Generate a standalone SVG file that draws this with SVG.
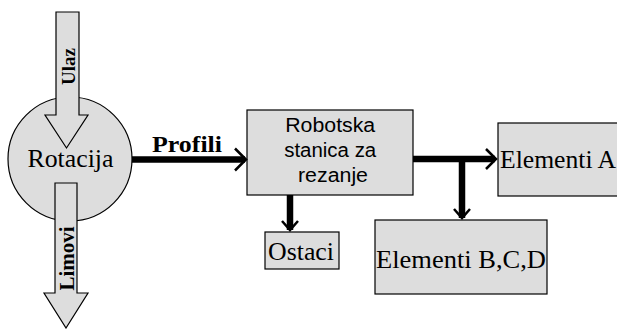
<svg xmlns="http://www.w3.org/2000/svg" width="617" height="329" viewBox="0 0 617 329">
  <style>
    .box { fill: #dddddd; stroke: #000; stroke-width: 1.2; }
    .serif { font-family: "Liberation Serif", "Times New Roman", serif; fill: #000; }
    .sans { font-family: "Liberation Sans", Arial, sans-serif; fill: #000; }
    .bold { font-weight: bold; }
    .flow { fill: none; stroke: #000; stroke-width: 6.5; }
    .head { fill: none; stroke: #000; stroke-width: 2.5; }
  </style>
  <rect width="617" height="329" fill="#fff"/>

  <!-- Rotation node with input and output block arrows -->
  <g id="rotacija">
    <circle class="box" cx="70" cy="159" r="62"/>
    <text class="serif" x="70.5" y="167" font-size="25" text-anchor="middle" textLength="86" lengthAdjust="spacingAndGlyphs">Rotacija</text>
  </g>
  <g id="ulaz">
    <polygon class="box" points="56,12 79,12 79,115 88,115 66.5,148 45,115 56,115"/>
    <text class="serif bold" transform="translate(75,66.5) rotate(-90)" font-size="19" text-anchor="middle" textLength="37" lengthAdjust="spacingAndGlyphs">Ulaz</text>
  </g>
  <g id="limovi">
    <polygon class="box" points="55,183 77,183 77,293 88,293 66,328 44,293 55,293"/>
    <text class="serif bold" transform="translate(74,258.5) rotate(-90)" font-size="20" text-anchor="middle" textLength="64" lengthAdjust="spacingAndGlyphs">Limovi</text>
  </g>

  <!-- Process nodes -->
  <g id="robotska-stanica">
    <rect class="box" x="247" y="110" width="166" height="85"/>
    <text class="sans" font-size="20" text-anchor="middle">
      <tspan x="333" y="132" textLength="90" lengthAdjust="spacingAndGlyphs">Robotska</tspan>
      <tspan x="333" y="157" textLength="92" lengthAdjust="spacingAndGlyphs">stanica za</tspan>
      <tspan x="333" y="182" textLength="70" lengthAdjust="spacingAndGlyphs">rezanje</tspan>
    </text>
  </g>
  <g id="ostaci">
    <rect class="box" x="265" y="232" width="74" height="37"/>
    <text class="serif" x="301" y="260" font-size="25" text-anchor="middle" textLength="66" lengthAdjust="spacingAndGlyphs">Ostaci</text>
  </g>
  <g id="elementi-a">
    <rect class="box" x="498" y="123" width="130" height="73"/>
    <text class="serif" x="500" y="168" font-size="25" textLength="116" lengthAdjust="spacingAndGlyphs">Elementi A</text>
  </g>
  <g id="elementi-bcd">
    <rect class="box" x="375" y="220" width="172" height="74"/>
    <text class="serif" x="376" y="268" font-size="26" textLength="170" lengthAdjust="spacingAndGlyphs">Elementi B,C,D</text>
  </g>

  <!-- Connectors -->
  <g id="connectors">
    <path class="flow" d="M132,159.5 H245"/>
    <path class="head" d="M235,148.5 L246,159.5 L235,170.5"/>
    <text class="serif bold" x="152" y="152" font-size="23" textLength="70" lengthAdjust="spacingAndGlyphs">Profili</text>

    <path class="flow" d="M290,195 V230"/>
    <path class="head" d="M282,221 L290,230 L298,221"/>

    <path class="flow" d="M413,159 H495"/>
    <path class="head" d="M486,149 L496,159 L486,169"/>

    <path class="flow" d="M462,159 V218"/>
    <path class="head" d="M454,209 L462,218 L470,209"/>
  </g>
</svg>
